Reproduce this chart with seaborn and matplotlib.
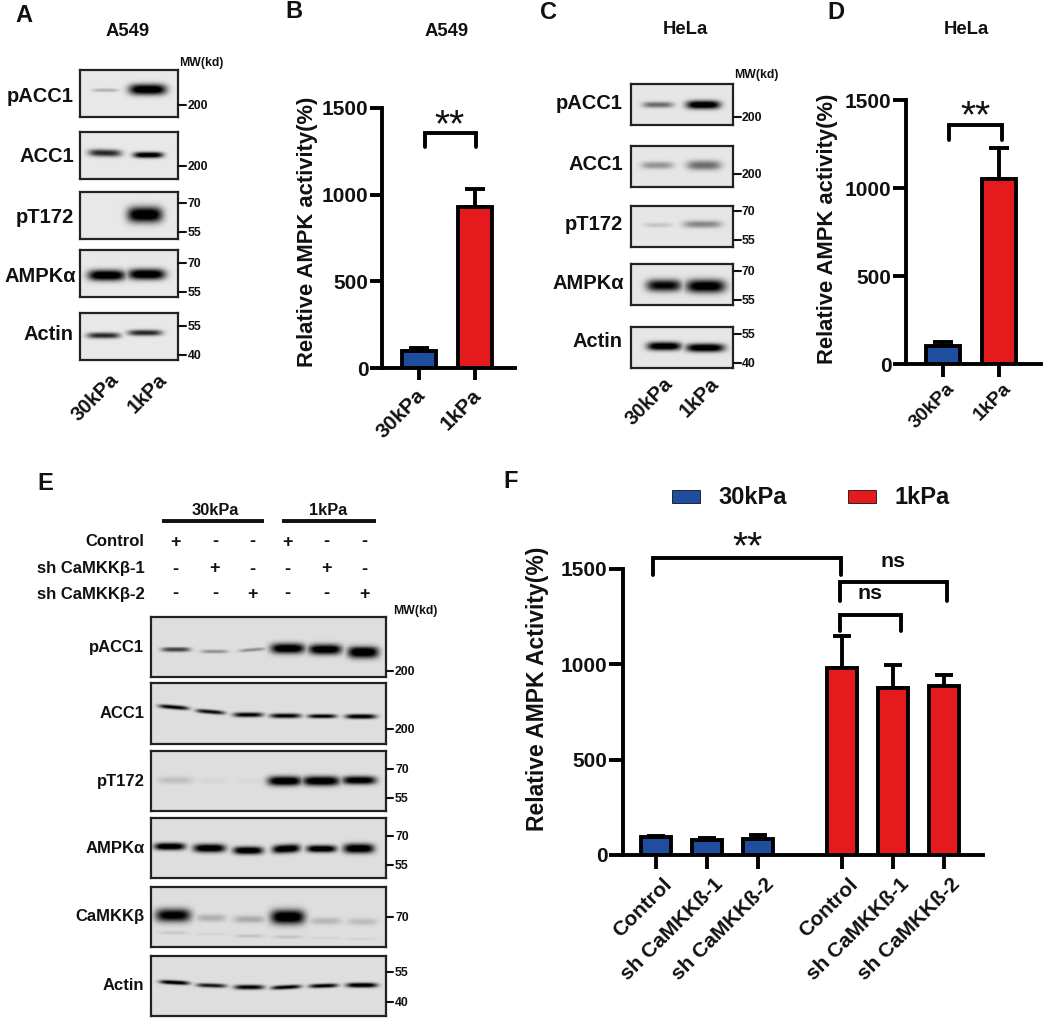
import numpy as np
import pandas as pd
import seaborn as sns
import matplotlib.pyplot as plt
from matplotlib.patches import Rectangle
from matplotlib.transforms import ScaledTranslation

# bar values
kpa = ["30kPa", "1kPa"]
b_values = [100, 930]
b_tops = [117, 1030]
d_values = [100, 1050]
d_tops = [127, 1230]
f_groups = ["30kPa", "30kPa", "30kPa", "1kPa", "1kPa", "1kPa"]
f_labels = ["Control", "sh CaMKKß-1", "sh CaMKKß-2", "Control", "sh CaMKKß-1", "sh CaMKKß-2"]
f_values = [95, 78, 85, 980, 875, 885]
f_tops = [102, 89, 105, 1150, 996, 946]
y_ticks = [0, 500, 1000, 1500]

# blot band darkness, one row per antibody, one value per lane
blot_names = ["pACC1", "ACC1", "pT172", "AMPKα", "Actin"]
a_dark = [[.2, 1], [.7, .95], [0, 1], [1, 1], [.7, .7]]
c_dark = [[.45, 1], [.3, .45], [.12, .35], [.85, .95], [1, 1]]
e_names = ["pACC1", "ACC1", "pT172", "AMPKα", "CaMKKβ", "Actin"]
e_dark = [[.6, .3, .3, 1, 1, 1],
          [.85, .8, .85, .85, .85, .9],
          [.12, .03, .02, 1, 1, .95],
          [1, 1, 1, 1, 1, 1],
          [.9, .18, .2, 1, .15, .13],
          [.9, .75, .85, .85, .85, .95]]
e_faint = [.08, .05, .1, .1, .05, .05]
e_control = ["+", "-", "-", "+", "-", "-"]
e_sh1 = ["-", "+", "-", "-", "+", "-"]
e_sh2 = ["-", "-", "+", "-", "-", "+"]
a_mw = [["200"], ["200"], ["70", "55"], ["70", "55"], ["55", "40"]]
e_mw = [["200"], ["200"], ["70", "55"], ["70", "55"], ["70"], ["55", "40"]]

W, H = 1043, 1019
BLUE = "#1f4e9f"
RED = "#e41a1c"
INK = "#111111"
LW = 2.8

sns.set_style("ticks")
plt.rcParams["font.family"] = ["Liberation Sans", "DejaVu Sans"]
plt.rcParams["font.weight"] = "bold"

fig = plt.figure(figsize=(W / 100, H / 100), dpi=100)


def px_axes(x0, y0, x1, y1):
    return fig.add_axes([x0 / W, 1 - y1 / H, (x1 - x0) / W, (y1 - y0) / H])


over = fig.add_axes([0, 0, 1, 1], zorder=10)
over.set_xlim(0, W)
over.set_ylim(H, 0)
over.axis("off")


def txt(x, y, s, size=14.5, ha="center", va="center", **kw):
    over.text(x, y + 1, s, fontsize=size, ha=ha, va=va, color=INK, fontweight="bold", **kw)


def blot(x0, y0, x1, y1, bands, dark, bg=.89):
    # bands are (centre x, width, centre y, height, tilt) in px from the box corner
    xs, ys = np.meshgrid(np.arange(0, x1 - x0, .5), np.arange(0, y1 - y0, .5))
    ink = np.zeros_like(xs)
    for (cx, w, cy, h, tilt), d in zip(bands, dark):
        dy = ys - cy - tilt * (xs - cx)
        along = np.exp(-np.abs((xs - cx) / (w * .53)) ** 4)
        across = np.exp(-np.abs(dy / (h * .6)) ** 2.2)
        ink = np.maximum(ink, d * along * across)
    img = bg * (1 - np.clip(ink * 1.2, 0, 1))
    ax = px_axes(x0, y0, x1, y1)
    sns.heatmap(img, ax=ax, cmap="gray", vmin=0, vmax=1, cbar=False,
                xticklabels=False, yticklabels=False)
    for sp in ax.spines.values():
        sp.set_visible(True)
        sp.set_color("#222222")
        sp.set_linewidth(1.6)
    return ax


def mw_ticks(x0, x1, xt, ys, labels, size=8.8):
    for y, s in zip(ys, labels):
        over.plot([x0, x1], [y, y], color=INK, lw=1.5)
        txt(xt, y, s, size=size, ha="left")


def bars(rect, x_unit, groups, labels, pos, values, tops, ylabel, y_size, capsize, tick_len, label_dx, label_size, pad):
    x0, y0, x1, y1, first = rect
    ax = px_axes(x0, y0, x1, y1)
    df = pd.DataFrame({"pos": pos, "value": values, "group": groups})
    sns.barplot(data=df, x="pos", y="value", hue="group", palette={"30kPa": BLUE, "1kPa": RED},
                dodge=False, native_scale=True, width=.6, saturation=1, edgecolor="black",
                linewidth=LW, errorbar=None, legend=False, ax=ax)
    lower = np.zeros(len(values))
    upper = np.array(tops) - np.array(values)
    ax.errorbar(pos, values, yerr=[lower, upper], fmt="none", ecolor="black", elinewidth=LW,
                capsize=capsize, capthick=LW, zorder=1)
    ax.set_xlim((x0 - first) / x_unit, (x1 - first) / x_unit)
    ax.set_ylim(0, 1500)
    ax.set_yticks(y_ticks)
    ax.set_xticks(pos)
    ax.set_xticklabels(labels, rotation=45, ha="right", va="top", rotation_mode="anchor", fontsize=label_size)
    ax.tick_params(axis="y", labelsize=15, width=LW, length=tick_len * .72, pad=1, color="black", labelcolor=INK)
    ax.tick_params(axis="x", width=LW, length=tick_len * .72, pad=pad, color="black", labelcolor=INK)
    # tick_params resets the label transform, so the shift has to come after it
    shift = ScaledTranslation(label_dx / 100, 0, fig.dpi_scale_trans)
    for lab in ax.get_xticklabels():
        lab.set_transform(lab.get_transform() + shift)
    ax.set_xlabel("")
    ax.set_ylabel("")
    sns.despine(ax=ax)
    ax.spines["left"].set_linewidth(LW)
    ax.spines["bottom"].set_linewidth(LW)
    ax.spines["left"].set_color("black")
    ax.spines["bottom"].set_color("black")
    ax.patch.set_alpha(0)
    txt(ylabel[1], (y0 + y1) / 2 + ylabel[2], ylabel[0], size=y_size, rotation=90)
    return ax


def bracket(ax, a, b, top, bottom):
    ax.plot([a, a, b, b], [bottom, top, top, bottom], color="black", lw=LW, clip_on=False,
            solid_capstyle="round", solid_joinstyle="miter")


def stars(ax, x, y):
    ax.text(x, y, "**", fontsize=28, ha="center", va="center", color=INK, fontweight="normal", clip_on=False)


def ns(ax, x, y):
    ax.text(x, y, "ns", fontsize=15.3, ha="center", va="center", color=INK, fontweight="bold", clip_on=False)


# panel letters and titles
for x, y, s in [(15, 14, "A"), (285, 10, "B"), (540, 11, "C"), (827, 11, "D"), (37, 483, "E"), (503, 481, "F")]:
    txt(x, y, s, size=17, ha="left")
for x, y, s in [(127.7, 30, "A549"), (447, 30, "A549"), (685.7, 28, "HeLa"), (966, 28, "HeLa")]:
    txt(x, y, s, size=13.3)

# A: western blots
a_tops = [70, 131.7, 191.7, 250, 313.3]
a_bands = [[(25.7, 25, 19.7, 3, 0), (67.7, 35, 19, 9, 0)],
           [(25, 31, 21, 6, .02), (68.3, 28, 23, 5, 0)],
           [(25, 30, 22, 6, 0), (65, 33, 22.7, 13, 0)],
           [(26.7, 35, 25.3, 9, 0), (66.7, 35, 24.3, 9, 0)],
           [(23.7, 31, 22, 5, 0), (65, 32, 19.3, 5, 0)]]
for top, bands, dark in zip(a_tops, a_bands, a_dark):
    blot(80, top, 177.7, top + 47, bands, dark, bg=.91)
for y, s in zip([95, 155, 216, 275, 333], blot_names):
    txt(76 if s == "AMPKα" else 74, y, s, ha="right")
txt(179.3, 62, "MW(kd)", size=8.8, ha="left")
for ys, labs in zip([[105], [165.7], [202.7, 232.3], [263.3, 292.3], [325.7, 355]], a_mw):
    mw_ticks(178, 185.7, 187.5, ys, labs)
txt(109, 369, "30kPa", size=14.5, ha="right", va="top", rotation=45, rotation_mode="anchor")
txt(157, 369, "1kPa", size=14.5, ha="right", va="top", rotation=45, rotation_mode="anchor")

# B: A549 activity
ax_b = bars((382, 108, 515, 368, 419), 56, kpa, kpa, [0, 1], b_values, b_tops,
            ("Relative AMPK activity(%)", 307, -7), 15.8, 7.2, 12, -3, 15, 4)
bracket(ax_b, .1, 1.02, 1356, 1275)
stars(ax_b, .55, 1397)

# C: western blots
c_tops = [84, 145.7, 205.7, 264, 327.3]
c_bands = [[(27, 29, 20.3, 5, 0), (72.3, 32, 20.3, 7, 0)],
           [(26.3, 30, 19.3, 6, 0), (73, 32, 19.3, 8, 0)],
           [(27.3, 27, 19, 4, 0), (71.3, 36, 18.3, 6, 0)],
           [(33, 33, 21, 10, 0), (74.7, 37, 21.7, 11, 0)],
           [(33.3, 32, 18.7, 7, 0), (74.3, 36, 20.3, 7, 0)]]
for top, bands, dark in zip(c_tops, c_bands, c_dark):
    blot(631, top, 733.3, top + 41, bands, dark, bg=.9)
for y, s in zip([102.7, 163.3, 223.3, 282.7, 340.7], blot_names):
    txt(624.5 if s == "AMPKα" else 622.7, y, s, ha="right")
txt(734, 74, "MW(kd)", size=8.8, ha="left")
for ys, labs in zip([[117], [173.7], [210.7, 240], [270.7, 300], [334, 363]], a_mw):
    mw_ticks(734, 740.7, 742, ys, labs)
txt(663, 373, "30kPa", size=14.5, ha="right", va="top", rotation=45, rotation_mode="anchor")
txt(709, 373, "1kPa", size=14.5, ha="right", va="top", rotation=45, rotation_mode="anchor")

# D: HeLa activity
ax_d = bars((906, 100, 1040.7, 364, 943), 56.3, kpa, kpa, [0, 1], d_values, d_tops,
            ("Relative AMPK activity(%)", 827, -4.5), 15.8, 7.2, 13, 3, 14, 2)
bracket(ax_d, .1, 1.04, 1358, 1273)
stars(ax_d, .57, 1399)

# E: western blots
e_box = [(616.7, 677.3), (683.3, 744), (750.7, 810.7), (818.3, 877.7), (886.7, 946.7), (956, 1016)]
e_bands = [[(24.3, 27, 33, 4, 0), (63, 25, 35, 3, 0), (101, 25, 33.3, 3, -.08),
            (136.3, 32, 31.7, 9, 0), (173.7, 31, 32.7, 9, 0), (211.7, 29, 35.7, 10, 0)],
           [(22.3, 28, 23.7, 3.5, .08), (59, 27, 28.3, 3.5, .08), (96.7, 28, 31.3, 4, 0),
            (134, 29, 32.3, 4, 0), (170.7, 27, 32.7, 3.5, 0), (209.3, 29, 33, 4, 0)],
           [(24, 33, 29.3, 6, 0), (60.7, 28, 30, 6, 0), (99, 28, 30, 6, 0),
            (133.3, 32, 30, 8, 0), (169.7, 35, 30, 8, 0), (207.7, 32, 29.3, 7, 0)],
           [(18.3, 29, 28, 6, 0), (58, 30, 29.7, 7, 0), (96.7, 28, 32, 6.5, 0),
            (134.7, 26, 30.3, 7, -.05), (170, 28, 30.3, 6, 0), (207.3, 29, 30, 8, 0)],
           [(21.7, 33, 28.3, 11, 0), (59.7, 28, 31, 6, 0), (98, 30, 32.3, 6, 0),
            (136.3, 32, 30, 12, 0), (174.3, 30, 34, 6, 0), (211, 28, 34.7, 6, 0)],
           [(23, 28, 26, 3.5, .05), (60, 28, 29, 3.5, .03), (97.7, 28, 30.7, 4, 0),
            (134.7, 28, 30.7, 3.5, -.05), (172, 27, 29.3, 3.5, -.03), (210.3, 29, 28.7, 4, 0)]]
e_faint_bands = [(21.7, 28, 45.7, 3, 0), (59.7, 28, 47, 2, 0), (98, 28, 49, 3, 0),
                 (136.3, 28, 50, 3, 0), (174.3, 28, 51, 2, 0), (211, 28, 52, 2, 0)]
for i, ((top, bottom), bands, dark) in enumerate(zip(e_box, e_bands, e_dark)):
    if e_names[i] == "CaMKKβ":
        bands = bands + e_faint_bands
        dark = dark + e_faint
    blot(151, top, 386, bottom, bands, dark, bg=.87)
for y, s in zip([646.7, 712.3, 780.7, 847.3, 915, 984.3], e_names):
    txt(144.5, y, s, size=12, ha="right")
txt(393, 610, "MW(kd)", size=8.8, ha="left")
for ys, labs in zip([[670.7], [729.3], [769.3, 798.3], [836, 865], [916.7], [971.7, 1001.7]], e_mw):
    mw_ticks(386.7, 392.7, 395, ys, labs)
txt(215, 509.3, "30kPa", size=11.8)
txt(328.3, 509.3, "1kPa", size=11.8)
over.plot([162.3, 264], [520.7, 520.7], color=INK, lw=2.8, solid_capstyle="butt")
over.plot([281.7, 375.7], [520.7, 520.7], color=INK, lw=2.8, solid_capstyle="butt")
lane_x = [175.7, 215, 252.3, 287.3, 326.7, 364]
for y, name, signs in zip([541, 568, 593], ["Control", "sh CaMKKβ-1", "sh CaMKKβ-2"], [e_control, e_sh1, e_sh2]):
    txt(144.5, y, name, size=12, ha="right")
    for x, s in zip(lane_x, signs):
        txt(x, y, s, size=13)

# F: knock-down activity
f_pos = [0, 1, 2, 3.65, 4.65, 5.65]
ax_f = bars((622.7, 569, 983, 855, 656), 51, f_groups, f_labels, f_pos, f_values, f_tops,
            ("Relative AMPK Activity(%)", 537.5, -24), 16.5, 6.5, 14, 6, 15, 4)
bracket(ax_f, -.05, 3.62, 1556, 1468)
bracket(ax_f, 3.61, 5.71, 1430, 1334)
bracket(ax_f, 3.61, 4.8, 1259, 1176)
stars(ax_f, 1.79, 1610)
ns(ax_f, 4.65, 1538)
ns(ax_f, 4.2, 1372)

# F legend
over.add_patch(Rectangle((672.3, 490), 27.7, 13.3, facecolor=BLUE, edgecolor=INK, lw=.6))
over.add_patch(Rectangle((847.7, 490), 28, 13.3, facecolor=RED, edgecolor=INK, lw=.6))
txt(718.3, 496, "30kPa", size=17, ha="left")
txt(895, 496, "1kPa", size=17, ha="left")

fig.savefig("out.png", dpi=100)
